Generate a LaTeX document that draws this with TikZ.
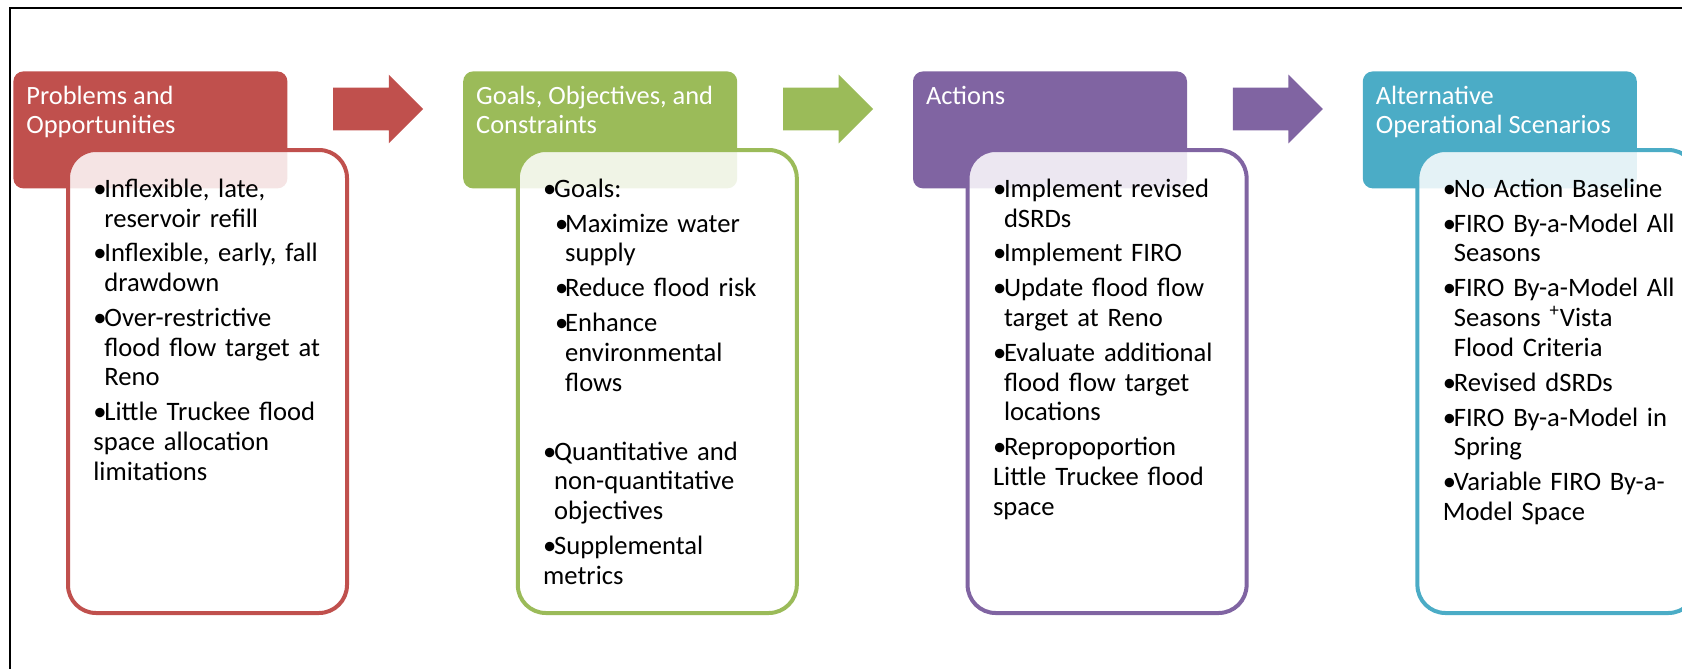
\documentclass[tikz,border=0pt]{standalone}
\usepackage{fontspec}
\setmainfont{Carlito}
\usepackage{xcolor}
\usepackage{tikz}
\usetikzlibrary{shapes.arrows, positioning, calc}

\definecolor{probred}{HTML}{C0504D}
\definecolor{goalgreen}{HTML}{9BBB59}
\definecolor{actpurple}{HTML}{8064A2}
\definecolor{altblue}{HTML}{4BACC6}

% bullet entries with hanging indent
\newcommand{\bul}{\par\hangindent=5.5pt\hangafter=1\noindent\makebox[5.5pt][l]{\textbullet}}
\newcommand{\subbul}{\par\hangindent=11pt\hangafter=1\noindent\hspace*{6pt}\makebox[5pt][l]{\textbullet}}

\begin{document}
\begin{tikzpicture}[x=0.5pt, y=-0.5pt,
  head/.style={rectangle, rounded corners=5pt, minimum width=137pt,
               minimum height=58.5pt, inner sep=0pt},
  headtext/.style={anchor=north west, inner sep=0pt, align=left,
                   text=white, font=\fontsize{13.2}{14.5}\selectfont},
  body/.style={rectangle, rounded corners=14pt, draw=#1, line width=2pt,
               fill=white, fill opacity=0.85, minimum width=139.5pt,
               minimum height=231.5pt, inner sep=0pt, anchor=north west},
  items/.style={anchor=north west, inner sep=0pt, text width=130pt, align=left,
                font=\fontsize{13.3}{14.85}\selectfont\setlength{\parskip}{2.6pt}},
  blockarr/.style={single arrow, minimum height=45pt, inner xsep=0pt,
                   inner ysep=10.5pt, single arrow head extend=6.5pt, anchor=tail},
  node distance=87.5pt
]
  \clip (0,0) rectangle (1682,669);
  \draw[line width=0.75pt] (10,669) -- (10,8) -- (1682,8);

  \node[head, fill=probred, anchor=north west] (h1) at (13,71) {};
  \node[head, fill=goalgreen, right=of h1] (h2) {};
  \node[head, fill=actpurple, right=of h2] (h3) {};
  \node[head, fill=altblue,   right=of h3] (h4) {};

  \node[blockarr, fill=probred]   (a1) at ($(h1.north east)+(45,38)$) {};
  \node[blockarr, fill=goalgreen] (a2) at ($(h2.north east)+(45,38)$) {};
  \node[blockarr, fill=actpurple] (a3) at ($(h3.north east)+(45,38)$) {};

  \node[body=probred]   (b1) at ($(h1.north west)+(53,77)$) {};
  \node[body=goalgreen] (b2) at ($(h2.north west)+(53,77)$) {};
  \node[body=actpurple] (b3) at ($(h3.north west)+(53,77)$) {};
  \node[body=altblue]   (b4) at ($(h4.north west)+(53,77)$) {};

  \node[headtext] (ht1) at ($(h1.north west)+(13,15)$) {Problems and\\Opportunities};
  \node[headtext] (ht2) at ($(h2.north west)+(13,15)$) {Goals, Objectives, and\\Constraints};
  \node[headtext] (ht3) at ($(h3.north west)+(13,15)$) {Actions};
  \node[headtext] (ht4) at ($(h4.north west)+(13,15)$) {Alternative\\Operational Scenarios};

  \node[items] (t1) at ($(b1.north west)+(27,14)$) {%
    \bul Inflexible, late,\newline reservoir refill
    \bul Inflexible, early, fall\newline drawdown
    \bul Over-restrictive\newline flood flow target at\newline Reno
    \bul Little Truckee flood\newline space allocation\newline limitations};
  \node[items] (t2) at ($(b2.north west)+(27,14)$) {%
    \bul Goals:
    \subbul Maximize water\newline supply
    \subbul Reduce flood risk
    \subbul Enhance\newline environmental\newline flows
    \par\vspace{17pt}
    \bul Quantitative and\newline non-quantitative\newline objectives
    \bul Supplemental\newline metrics};
  \node[items] (t3) at ($(b3.north west)+(27,14)$) {%
    \bul Implement revised\newline dSRDs
    \bul Implement FIRO
    \bul Update flood flow\newline target at Reno
    \bul Evaluate additional\newline flood flow target\newline locations
    \bul Repropoportion\newline Little Truckee flood\newline space};
  \node[items] (t4) at ($(b4.north west)+(27,14)$) {%
    \bul No Action Baseline
    \bul FIRO By-a-Model All\newline Seasons
    \bul FIRO By-a-Model All\newline Seasons \textsuperscript{+}Vista\newline Flood Criteria
    \bul Revised dSRDs
    \bul FIRO By-a-Model in\newline Spring
    \bul Variable FIRO By-a-\newline Model Space};
\end{tikzpicture}
\end{document}
